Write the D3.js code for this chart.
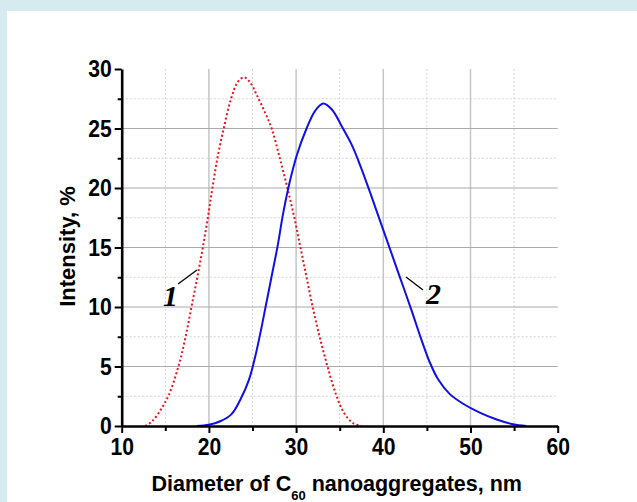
<!DOCTYPE html>
<html>
<head>
<meta charset="utf-8">
<script src="https://cdn.jsdelivr.net/npm/d3@7"></script>
<style>
  html, body { margin: 0; padding: 0; background: #d6ebf0; }
  svg { display: block; }
</style>
</head>
<body>
<svg id="chart" width="637" height="502"></svg>
<script>
"use strict";

// data
const xMajorTicks = [10, 20, 30, 40, 50, 60];
const xMinorTicks = [15, 25, 35, 45, 55];
const yMajorTicks = [0, 5, 10, 15, 20, 25, 30];
const yMinorTicks = [2.5, 7.5, 12.5, 17.5, 22.5, 27.5];

// curve 1 (red, dotted)
const diam1 = [12.7, 13.5, 14.5, 15.4, 16.5, 17.3, 18.0, 18.7, 19.3, 19.9, 20.4, 21.0, 21.7, 22.5, 23.3, 24.0, 24.7, 25.5, 26.4, 27.2, 28.1, 29.0, 29.8, 30.5, 31.2, 31.9, 32.7, 33.6, 34.6, 35.5, 36.5, 37.5];
const int1  = [0, 0.4, 1.4, 2.6, 5.0, 7.4, 10.0, 12.6, 15.0, 17.6, 20.0, 22.6, 25.0, 27.4, 28.9, 29.3, 28.9, 27.8, 26.4, 25.0, 22.6, 20.0, 17.5, 15.0, 12.5, 10.0, 7.5, 5.0, 2.6, 1.1, 0.25, 0];

// curve 2 (blue, solid)
const diam2 = [18.6, 20.0, 21.3, 22.6, 23.6, 24.6, 25.3, 25.9, 26.5, 27.2, 27.9, 28.5, 29.2, 30.1, 31.2, 32.2, 33.1, 34.1, 35.3, 36.4, 37.4, 38.5, 39.6, 40.8, 42.0, 43.2, 44.3, 45.3, 46.3, 47.6, 49.2, 51.0, 53.0, 54.9, 56.4];
const int2  = [0, 0.1, 0.4, 1.0, 2.2, 3.9, 5.8, 7.8, 10.0, 12.6, 15.2, 17.8, 20.3, 22.8, 25.0, 26.5, 27.1, 26.6, 25.1, 23.6, 21.8, 19.6, 17.3, 14.8, 12.3, 9.8, 7.4, 5.4, 3.9, 2.7, 1.85, 1.15, 0.55, 0.15, 0];



// setting
const plot = { left: 121.7, right: 557.7, top: 69, bottom: 426 };
const sansFont = "'Liberation Sans', Arial, sans-serif";



let svg = d3.select("#chart");

// white page on the light blue frame
svg.append("rect")
.attr("x", 7).attr("y", 11)
.attr("width", 630).attr("height", 491)
.attr("fill", "#ffffff");



// scales
let scaleX = d3.scaleLinear()
.domain([10, 60])
.range([plot.left, plot.right]);

let scaleY = d3.scaleLinear()
.domain([0, 30])
.range([plot.bottom, plot.top]);



// grid lines
let grid = svg.append("g").attr("class", "grid");

grid.selectAll("line.vminor")
.data(xMinorTicks)
.enter()
.append("line")
.attr("x1", d => scaleX(d)).attr("x2", d => scaleX(d))
.attr("y1", plot.top).attr("y2", plot.bottom)
.attr("stroke", "#d4d4d4")
.attr("stroke-width", 1)
.attr("stroke-dasharray", "2,2");

grid.selectAll("line.hminor")
.data(yMinorTicks)
.enter()
.append("line")
.attr("x1", plot.left).attr("x2", plot.right)
.attr("y1", d => scaleY(d)).attr("y2", d => scaleY(d))
.attr("stroke", "#d4d4d4")
.attr("stroke-width", 1)
.attr("stroke-dasharray", "2,2");

grid.selectAll("line.vmajor")
.data(xMajorTicks.filter(d => d > 10 && d < 60))
.enter()
.append("line")
.attr("x1", d => scaleX(d)).attr("x2", d => scaleX(d))
.attr("y1", plot.top).attr("y2", plot.bottom)
.attr("stroke", "#c6c6c6")
.attr("stroke-width", 1.5);

grid.selectAll("line.hmajor")
.data(yMajorTicks.filter(d => d > 0 && d < 30))
.enter()
.append("line")
.attr("x1", plot.left).attr("x2", plot.right)
.attr("y1", d => scaleY(d)).attr("y2", d => scaleY(d))
.attr("stroke", "#aaaaaa")
.attr("stroke-width", 1.2);



// curves
let line = d3.line()
.x(d => scaleX(d[0]))
.y(d => scaleY(d[1]))
.curve(d3.curveCatmullRom.alpha(0.5));

svg.append("path")
.datum(diam1.map((d, i) => [d, int1[i]]))
.attr("d", line)
.attr("fill", "none")
.attr("stroke", "#e8141e")
.attr("stroke-width", 2)
.attr("stroke-dasharray", "2,2.4");

svg.append("path")
.datum(diam2.map((d, i) => [d, int2[i]]))
.attr("d", line)
.attr("fill", "none")
.attr("stroke", "#1010e6")
.attr("stroke-width", 2);



// tick labels: tall, slightly narrow bold digits
function tickText(g, shiftX) {
    g.selectAll("text")
    .attr("font-family", sansFont)
    .attr("font-weight", "bold")
    .attr("font-size", 24)
    .attr("fill", "#000")
    .attr("x", 0)
    .attr("transform", `translate(${shiftX}, 0) scale(0.88, 1)`);
}



// y axis
let yAxis = svg.append("g")
.attr("transform", `translate(${plot.left}, 0)`);

yAxis.append("g")
.call(d3.axisLeft(scaleY).tickValues(yMinorTicks).tickSize(4).tickFormat(""))
.call(g => g.select(".domain").remove())
.selectAll("line").attr("stroke", "#000").attr("stroke-width", 2);

yAxis.append("g")
.call(d3.axisLeft(scaleY).tickValues(yMajorTicks).tickSize(7).tickSizeOuter(0))
.call(g => g.select(".domain").attr("stroke", "#000").attr("stroke-width", 2.6))
.call(g => g.selectAll("line").attr("stroke", "#000").attr("stroke-width", 2))
.call(g => tickText(g, -10));



// x axis
let xAxis = svg.append("g")
.attr("transform", `translate(0, ${plot.bottom})`);

xAxis.append("g")
.call(d3.axisBottom(scaleX).tickValues(xMinorTicks).tickSize(5).tickFormat(""))
.call(g => g.select(".domain").remove())
.selectAll("line").attr("stroke", "#000").attr("stroke-width", 2);

xAxis.append("g")
.call(d3.axisBottom(scaleX).tickValues(xMajorTicks).tickSize(7).tickSizeOuter(0).tickPadding(5))
.call(g => g.select(".domain").attr("stroke", "#000").attr("stroke-width", 2.6))
.call(g => g.selectAll("line").attr("stroke", "#000").attr("stroke-width", 2))
.call(g => tickText(g, 0));



// axis titles
svg.append("text")
.attr("transform", `translate(75, ${(plot.top + plot.bottom) / 2 - 1}) rotate(-90)`)
.attr("text-anchor", "middle")
.attr("font-family", sansFont)
.attr("font-weight", "bold")
.attr("font-size", 22)
.text("Intensity, %");

let xTitle = svg.append("text")
.attr("x", (plot.left + plot.right) / 2 - 3)
.attr("y", 491)
.attr("text-anchor", "middle")
.attr("font-family", sansFont)
.attr("font-weight", "bold")
.attr("font-size", 21.5);
xTitle.append("tspan").text("Diameter of C");
xTitle.append("tspan").attr("dy", 9).attr("font-size", 13).text("60");
xTitle.append("tspan").attr("dy", -9).text(" nanoaggregates, nm");



// curve labels with leader lines
const curveLabels = [
    { text: "1", x: 163, y: 306, lx1: 178, ly1: 284, lx2: 197, ly2: 270 },
    { text: "2", x: 426, y: 304, lx1: 406, ly1: 277, lx2: 423, ly2: 290 }
];

curveLabels.forEach(l => {
    svg.append("line")
    .attr("x1", l.lx1).attr("y1", l.ly1)
    .attr("x2", l.lx2).attr("y2", l.ly2)
    .attr("stroke", "#000")
    .attr("stroke-width", 1.3);
    svg.append("text")
    .attr("x", l.x).attr("y", l.y)
    .attr("font-family", "'Liberation Serif', 'Times New Roman', serif")
    .attr("font-weight", "bold")
    .attr("font-style", "italic")
    .attr("font-size", 30)
    .text(l.text);
});
</script>
</body>
</html>
